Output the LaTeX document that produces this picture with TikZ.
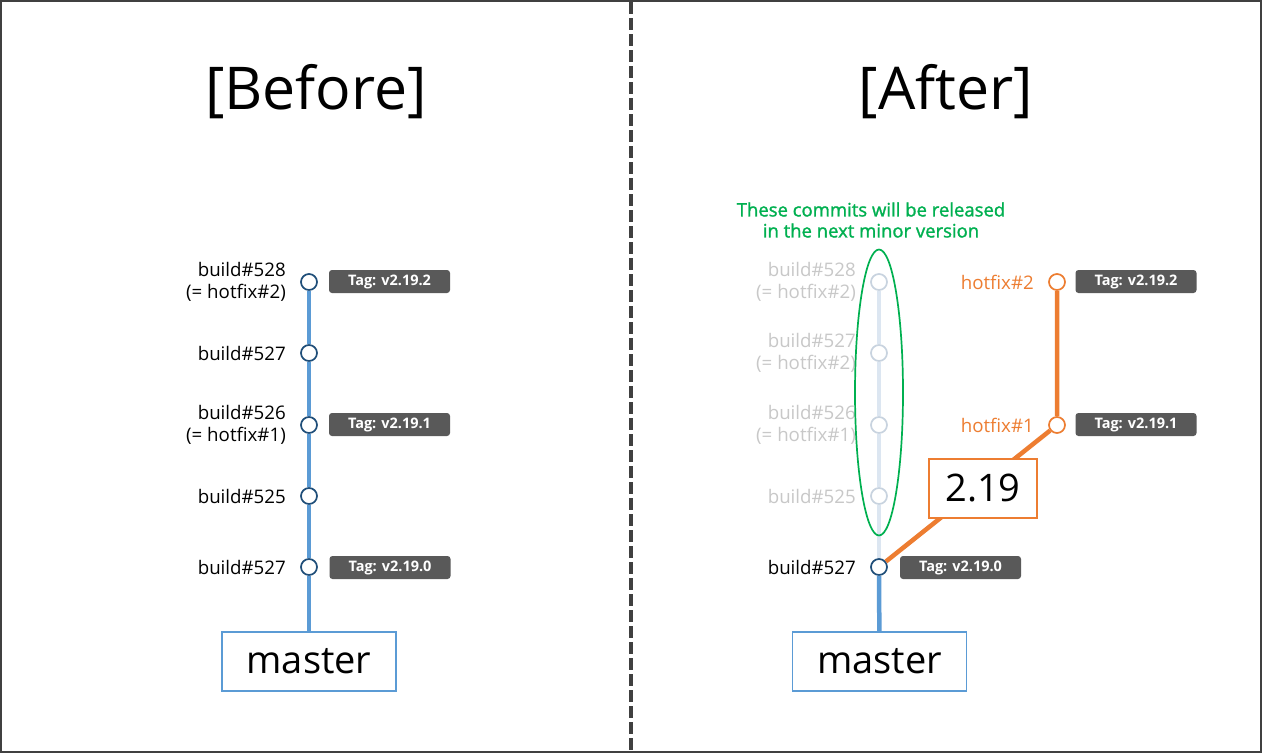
\documentclass[tikz,border=0pt]{standalone}
\usepackage{fontspec}
\setmainfont{Open Sans}
\newfontfamily\semib{Open Sans}[FakeBold=1.4]
\usetikzlibrary{shapes.geometric}
\definecolor{frame}{HTML}{404040}
\definecolor{navy}{HTML}{1F4E79}
\definecolor{bline}{HTML}{5B9BD5}
\definecolor{orng}{HTML}{ED7D31}
\definecolor{tagfill}{HTML}{595959}
\definecolor{fadec}{HTML}{C8D3DF}
\definecolor{fadel}{HTML}{DCE6F1}
\definecolor{fadet}{HTML}{C8C8C8}
\definecolor{grn}{HTML}{00B050}
\tikzset{
  commit/.style={circle, draw=navy, fill=white, line width=1.7pt, minimum size=16pt, inner sep=0pt},
  fcommit/.style={commit, draw=fadec},
  ocommit/.style={commit, draw=orng},
  tagbox/.style={rounded corners=3pt, fill=tagfill, text=white, font=\bfseries\fontsize{14.5}{16}\selectfont, minimum width=121pt, minimum height=23pt, inner sep=0pt},
  lbl/.style={anchor=east, align=right, inner sep=0pt, font=\fontsize{18.7}{22}\selectfont},
  brbox/.style={draw=bline, line width=1.7pt, fill=white, minimum width=174pt, minimum height=59pt, inner sep=0pt, font=\fontsize{38}{40}\selectfont},
  title/.style={font=\fontsize{59}{64}\selectfont},
  blueln/.style={draw=bline, line width=4.5pt},
  fadeln/.style={draw=fadel, line width=4.5pt},
  orangeln/.style={draw=orng, line width=4.5pt},
}
\begin{document}
\begin{tikzpicture}[x=1pt,y=-1pt]
\useasboundingbox (0,0) rectangle (1262,753);
\fill[white] (0,0) rectangle (1262,753);
\draw[frame, line width=2pt] (1,1) rectangle (1261,752);
\coordinate (dtop) at (631,2);
\coordinate (dbot) at (631,752);
\draw[frame, line width=3.6pt, dash pattern=on 12pt off 4pt] (dtop) -- (dbot);

% titles
\node[title] (tb) at (316,92) {[Before]};
\node[title] (ta) at (946,92) {[After]};

% ---- Before ----
\node[commit] (L1) at (309,282) {};
\node[commit] (L2) at (309,353) {};
\node[commit] (L3) at (309,425) {};
\node[commit] (L4) at (309,496) {};
\node[commit] (L5) at (309,567) {};
\node[brbox] (mL) at (309,661.5) {master};
\draw[blueln] (L1) -- (L2) -- (L3) -- (L4) -- (L5) -- (mL);
\node[lbl] (l1) at (286,282) {build\#528\\(= hotfix\#2)};
\node[lbl] (l2) at (286,353) {build\#527};
\node[lbl] (l3) at (286,425) {build\#526\\(= hotfix\#1)};
\node[lbl] (l4) at (286,496) {build\#525};
\node[lbl] (l5) at (286,567) {build\#527};
\node[tagbox] (t1) at (389.5,281.5) {Tag: v2.19.2};
\node[tagbox] (t2) at (389.5,424.5) {Tag: v2.19.1};
\node[tagbox] (t3) at (390,567.5) {Tag: v2.19.0};

% ---- After ----
\node[fcommit] (R1) at (879,282) {};
\node[fcommit] (R2) at (879,353) {};
\node[fcommit] (R3) at (879,425) {};
\node[fcommit] (R4) at (879,496) {};
\node[commit] (R5) at (879,567) {};
\node[brbox] (mR) at (879.5,661.5) {master};
\draw[fadeln] (R1) -- (R2) -- (R3) -- (R4) -- (R5);
\draw[blueln] (R5) -- (mR);
\node[lbl, text=fadet] (r1) at (856,282) {build\#528\\(= hotfix\#2)};
\node[lbl, text=fadet] (r2) at (856,353) {build\#527\\(= hotfix\#2)};
\node[lbl, text=fadet] (r3) at (856,425) {build\#526\\(= hotfix\#1)};
\node[lbl, text=fadet] (r4) at (856,496) {build\#525};
\node[lbl] (r5) at (856,567) {build\#527};
\node[tagbox] (t4) at (960.5,567.5) {Tag: v2.19.0};

\node[ocommit] (H2) at (1057,282) {};
\node[ocommit] (H1) at (1057,425) {};
\draw[orangeln] (H2) -- (H1) -- (R5);
\node[lbl, text=orng] (h2) at (1034,282) {hotfix\#2};
\node[lbl, text=orng] (h1) at (1034,425) {hotfix\#1};
\node[tagbox] (t5) at (1136,281.5) {Tag: v2.19.2};
\node[tagbox] (t6) at (1136,424.5) {Tag: v2.19.1};
\node[brbox, draw=orng, minimum width=108pt] (ver) at (983,488.5) {2.19};

\node[ellipse, draw=grn, line width=1.7pt, minimum width=48pt, minimum height=286pt, inner sep=0pt] (ell) at (879,392.5) {};
\node[align=center, text=grn, font=\semib\fontsize{18.5}{21}\selectfont] (note) at (871,220) {These commits will be released\\in the next minor version};
\end{tikzpicture}
\end{document}
